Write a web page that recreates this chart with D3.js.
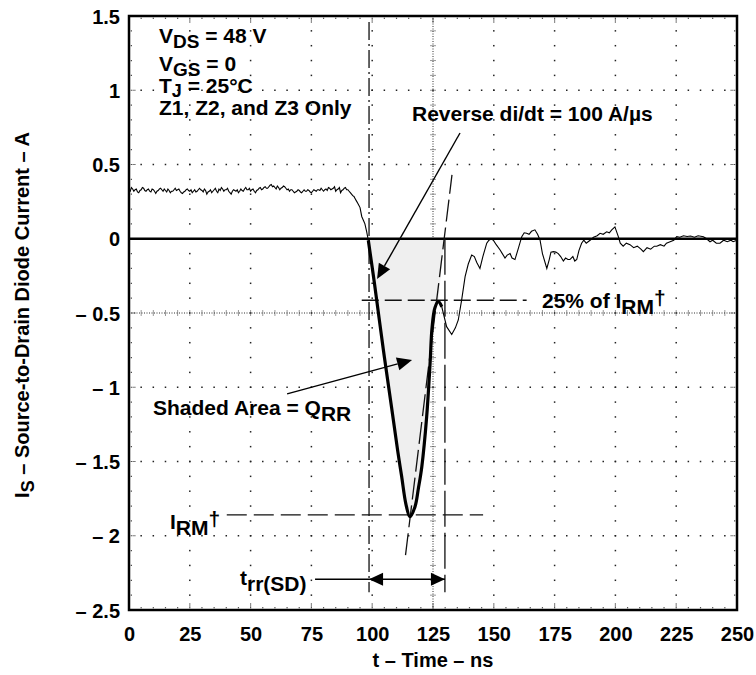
<!DOCTYPE html>
<html><head><meta charset="utf-8">
<script src="https://cdn.jsdelivr.net/npm/d3@7"></script>
<style>
body{margin:0;background:#fff}
text{font-family:"Liberation Sans",Arial,Helvetica,sans-serif;font-weight:bold;fill:#000}
</style>
</head><body>
<svg id="c" width="756" height="675"></svg>
<script>
// ---------- data ----------
const xTicks = [0,25,50,75,100,125,150,175,200,225,250];
const yTicks = [1.5,1,0.5,0,-0.5,-1,-1.5,-2,-2.5];
const yTickLabels = ["1.5","1","0.5","0","\u2013 0.5","\u2013 1","\u2013 1.5","\u2013 2","\u2013 2.5"];

// forward conduction (thin trace) [t ns, I A]
const preTrace = [
[0,.33],[.5,.32],[1,.345],[1.5,.335],[2,.32],[2.5,.33],[3,.335],[3.5,.315],[4,.31],[4.5,.325],[5,.33],[5.5,.345],[6,.34],[6.5,.325],[7,.32],[7.5,.33],[8,.335],[8.5,.32],[9,.315],[9.5,.335],
[10,.33],[10.5,.32],[11,.305],[11.5,.32],[12,.325],[12.5,.335],[13,.34],[13.5,.33],[14,.32],[14.5,.335],[15,.325],[15.5,.315],[16,.335],[16.5,.325],[17,.31],[17.5,.32],[18,.32],[18.5,.33],[19,.34],[19.5,.325],
[20,.33],[20.5,.335],[21,.32],[21.5,.31],[22,.305],[22.5,.315],[23,.32],[23.5,.33],[24,.335],[24.5,.325],[25,.32],[25.5,.33],[26,.31],[26.5,.32],[27,.33],[27.5,.315],[28,.32],[28.5,.33],[29,.34],[29.5,.33],
[30,.325],[30.5,.315],[31,.335],[31.5,.325],[32,.30],[32.5,.315],[33,.32],[33.5,.33],[34,.31],[34.5,.32],[35,.33],[35.5,.34],[36,.32],[36.5,.31],[37,.335],[37.5,.325],[38,.345],[38.5,.335],[39,.32],[39.5,.33],
[40,.33],[40.5,.34],[41,.32],[41.5,.31],[42,.30],[42.5,.32],[43,.33],[43.5,.325],[44,.32],[44.5,.33],[45,.31],[45.5,.32],[46,.335],[46.5,.325],[47,.32],[47.5,.335],[48,.345],[48.5,.33],[49,.33],[49.5,.34],
[50,.32],[50.5,.33],[51,.335],[51.5,.32],[52,.31],[52.5,.325],[53,.33],[53.5,.34],[54,.345],[54.5,.33],[55,.335],[55.5,.345],[56,.35],[56.5,.34],[57,.34],[57.5,.35],[58,.36],[58.5,.365],[59,.35],[59.5,.355],
[60,.345],[60.5,.335],[61,.355],[61.5,.345],[62,.33],[62.5,.34],[63,.345],[63.5,.355],[64,.35],[64.5,.34],[65,.33],[65.5,.335],[66,.32],[66.5,.33],[67,.33],[67.5,.32],[68,.31],[68.5,.315],[69,.32],[69.5,.33],
[70,.325],[70.5,.315],[71,.31],[71.5,.32],[72,.33],[72.5,.32],[73,.32],[73.5,.33],[74,.325],[74.5,.315],[75,.31],[75.5,.32],[76,.33],[76.5,.325],[77,.32],[77.5,.33],[78,.33],[78.5,.325],[79,.34],[79.5,.33],
[80,.32],[80.5,.33],[81,.335],[81.5,.325],[82,.345],[82.5,.34],[83,.33],[83.5,.335],[84,.34],[84.5,.35],[85,.32],[85.5,.33],[86,.335],[86.5,.345],[87,.31],[87.5,.325],[88,.33],[88.5,.34],[89,.345],[89.5,.33],
[90,.33],[90.5,.32],[91,.31],[91.5,.30],[92,.29],[92.5,.285],[93,.27],[93.5,.255],[94,.24],[94.5,.225],[95,.21],[95.7,.15],[96.5,.12],[97,.10],[97.7,.05],[98.4,-.01]
];
// reverse recovery (thick trace)
const recoveryCurve = [
[98.4,-0.01],[101,-0.31],[104.6,-0.749],[108,-1.14],[110.5,-1.43],[112.1,-1.60],[113.9,-1.79],[115.5,-1.872],
[117.6,-1.804],[119,-1.68],[120.4,-1.535],[122.4,-1.198],[123.8,-0.839],[124.6,-0.60],[125.8,-0.465],[127.2,-0.424],[128.6,-0.458]
];
// ringing after recovery (thin trace)
const postTrace = [
[127.2,-0.424],[128.6,-0.458],[130.6,-0.592],[132.7,-0.645],[134.2,-0.60],[135.4,-0.547],[136.8,-0.41],[138.2,-0.255],
[139.5,-0.17],[140.9,-0.11],[142,-0.12],[143,-0.16],[144.3,-0.20],[145.5,-0.12],[147.1,-0.03],[148,-0.01],[149,0.0],
[149.8,-0.01],[151,-0.04],[152.6,-0.076],[153.5,-0.10],[154.6,-0.13],[155.5,-0.11],[156.7,-0.10],[157.5,-0.13],
[158.7,-0.14],[160,-0.07],[161.5,0.014],[162.5,0.04],[163.5,0.037],[164.5,0.03],[165.5,0.05],[166.9,0.06],[168,0.03],
[169,-0.008],[170,-0.10],[171.8,-0.20],[172.8,-0.14],[173.5,-0.09],[174.5,-0.087],[175.5,-0.09],[176.5,-0.10],
[177.5,-0.12],[178.6,-0.15],[179.5,-0.13],[180.5,-0.14],[181.3,-0.14],[182.5,-0.12],[183.3,-0.15],[184.1,-0.14],
[185,-0.08],[186.1,-0.03],[187,-0.01],[188,-0.03],[189.6,-0.01],[191,0.01],[192.5,0.02],[193.7,0.037],[195,0.03],
[196.4,0.047],[197.5,0.04],[198.5,0.06],[199.8,0.08],[201.2,0.014],[202,-0.03],[203.2,-0.05],[204.5,-0.03],[206,-0.04],
[207.5,-0.06],[209,-0.05],[210.5,-0.07],[211.5,-0.087],[213,-0.06],[214.5,-0.07],[216,-0.05],[217,-0.05],[218.5,-0.04],
[220,-0.05],[221,-0.03],[222.5,-0.02],[224,-0.01],[225.2,0.014],[226.5,0.01],[228,0.02],[229.5,0.015],[230.9,0.018],
[232.5,0.01],[234,0.02],[236.2,0.014],[237.5,0.0],[238.9,-0.02],[240,-0.01],[241.5,-0.03],[243,-0.03],[244.5,-0.01],
[246,-0.02],[247.5,-0.01],[248.4,-0.02],[250,-0.01]
];
// reference construction lines [t, I]
const tangentLine = [[113.7,-2.13],[132.8,0.43]];
const startLineT = 98.7, endLineT = 129.9;
const irm = -1.86, irm25 = -0.414;

// ---------- layout ----------
const svg = d3.select("#c");
const X0=129, X1=737, Y0=16, Y1=610;
const x = d3.scaleLinear().domain([0,250]).range([X0,X1]);
const y = d3.scaleLinear().domain([-2.5,1.5]).range([Y1,Y0]);
const minorT = d3.range(0,250.001,5);
const minorV = d3.range(-25,16,1).map(k=>k/10);

// graticule
const grat = svg.append("g");
const gridT=[25,50,75,100,150,175,200,225];
const gridV=[1,0.5,0,-1,-1.5,-2];
gridT.forEach(t=>minorV.forEach(v=>{
  if(v>-2.5 && v<1.5) grat.append("rect").attr("x",x(t)-0.75).attr("y",y(v)-0.75).attr("width",1.5).attr("height",1.5).attr("fill","#222");
}));
gridV.forEach(v=>minorT.forEach(t=>{
  if(t>0 && t<250) grat.append("rect").attr("x",x(t)-0.75).attr("y",y(v)-0.75).attr("width",1.5).attr("height",1.5).attr("fill","#222");
}));
// center lines
grat.append("line").attr("x1",x(125)).attr("x2",x(125)).attr("y1",Y0).attr("y2",Y1)
  .attr("stroke","#333").attr("stroke-width",1).attr("stroke-dasharray","1,1.5");
grat.append("line").attr("x1",X0).attr("x2",X1).attr("y1",y(-0.5)).attr("y2",y(-0.5))
  .attr("stroke","#333").attr("stroke-width",1).attr("stroke-dasharray","1,1.5");
minorV.forEach(v=>grat.append("line").attr("x1",x(125)-2.5).attr("x2",x(125)+2.5).attr("y1",y(v)).attr("y2",y(v))
  .attr("stroke","#333").attr("stroke-width",1).attr("stroke-dasharray","1,1"));
minorT.forEach(t=>grat.append("line").attr("x1",x(t)).attr("x2",x(t)).attr("y1",y(-0.5)-2.5).attr("y2",y(-0.5)+2.5)
  .attr("stroke","#333").attr("stroke-width",1).attr("stroke-dasharray","1,1"));
// border ticks
minorT.forEach((t,i)=>{
  const L = (i%5===0)?7:3;
  grat.append("line").attr("x1",x(t)).attr("x2",x(t)).attr("y1",Y0).attr("y2",Y0+L).attr("stroke","#222").attr("stroke-width",1.2).attr("stroke-dasharray","1.2,1");
  grat.append("line").attr("x1",x(t)).attr("x2",x(t)).attr("y1",Y1).attr("y2",Y1-L).attr("stroke","#222").attr("stroke-width",1.2).attr("stroke-dasharray","1.2,1");
});
minorV.forEach((v,i)=>{
  const L = (i%5===0)?7:3;
  grat.append("line").attr("y1",y(v)).attr("y2",y(v)).attr("x1",X0).attr("x2",X0+L).attr("stroke","#222").attr("stroke-width",1.2).attr("stroke-dasharray","1.2,1");
  grat.append("line").attr("y1",y(v)).attr("y2",y(v)).attr("x1",X1).attr("x2",X1-L).attr("stroke","#222").attr("stroke-width",1.2).attr("stroke-dasharray","1.2,1");
});

// shaded Q_RR area
const curve = d3.line().x(d=>x(d[0])).y(d=>y(d[1])).curve(d3.curveCatmullRom.alpha(0.5));
const tZero = tangentLine[0][0] + (0 - tangentLine[0][1])*(tangentLine[1][0]-tangentLine[0][0])/(tangentLine[1][1]-tangentLine[0][1]);
const shadePts = recoveryCurve.filter(d=>d[0]<=127.2);
svg.append("path")
  .attr("d", curve(shadePts) + `L${x(tZero)},${y(0)}L${x(recoveryCurve[0][0])},${y(0)}Z`)
  .attr("fill","#efefef");

// zero reference line
svg.append("line").attr("x1",X0).attr("x2",X1).attr("y1",y(0)).attr("y2",y(0)).attr("stroke","#000").attr("stroke-width",2.5);

// construction lines
const dl = (x1,y1,x2,y2,dash)=>svg.append("line").attr("x1",x1).attr("y1",y1).attr("x2",x2).attr("y2",y2)
  .attr("stroke","#111").attr("stroke-width",1.3).attr("stroke-dasharray",dash);
dl(x(startLineT),y(1.46),x(startLineT),y(-2.38),"18,4,2,4");
dl(x(endLineT),y(0),x(endLineT),y(-2.38),"36,6");
dl(x(tangentLine[0][0]),y(tangentLine[0][1]),x(tangentLine[1][0]),y(tangentLine[1][1]),"22,6");
dl(x(95.7),y(irm25),x(163.5),y(irm25),"17,6");
dl(x(40.2),y(irm),x(145.6),y(irm),"20,7");

// traces
const lin = d3.line().x(d=>x(d[0])).y(d=>y(d[1]));
svg.append("path").attr("d",lin(preTrace)).attr("fill","none").attr("stroke","#000").attr("stroke-width",1.1);
svg.append("path").attr("d",lin(postTrace)).attr("fill","none").attr("stroke","#000").attr("stroke-width",1.1);
svg.append("path").attr("d",curve(recoveryCurve)).attr("fill","none").attr("stroke","#000").attr("stroke-width",3.2).attr("stroke-linejoin","round");

// border
svg.append("rect").attr("x",X0).attr("y",Y0).attr("width",X1-X0).attr("height",Y1-Y0)
  .attr("fill","none").attr("stroke","#000").attr("stroke-width",2.5);

// arrows
function arrowHead(tipX,tipY,fromX,fromY,len,hw){
  const a=Math.atan2(tipY-fromY,tipX-fromX);
  const bx=tipX-len*Math.cos(a), by=tipY-len*Math.sin(a);
  const px=-Math.sin(a)*hw, py=Math.cos(a)*hw;
  svg.append("path").attr("d",`M${tipX},${tipY}L${bx+px},${by+py}L${bx-px},${by-py}Z`).attr("fill","#000");
  return [bx,by];
}
function arrow(t1,v1,t2,v2){
  const sx=x(t1),sy=y(v1),tx=x(t2),ty=y(v2);
  const b=arrowHead(tx,ty,sx,sy,15,6.5);
  svg.append("line").attr("x1",sx).attr("y1",sy).attr("x2",b[0]).attr("y2",b[1]).attr("stroke","#000").attr("stroke-width",1.4);
}
arrow(136.1,0.712,102.0,-0.271);
arrow(65.0,-1.045,116.4,-0.816);
const vArr=-2.293;
svg.append("line").attr("x1",x(76.5)).attr("x2",x(startLineT)).attr("y1",y(vArr)).attr("y2",y(vArr)).attr("stroke","#000").attr("stroke-width",1.4);
svg.append("line").attr("x1",x(startLineT)).attr("x2",x(endLineT)).attr("y1",y(vArr)).attr("y2",y(vArr)).attr("stroke","#000").attr("stroke-width",1.4);
arrowHead(x(startLineT),y(vArr),x(endLineT),y(vArr),14,6.5);
arrowHead(x(endLineT),y(vArr),x(startLineT),y(vArr),14,6.5);

// axes
const xa = svg.append("g").attr("transform",`translate(0,${Y1})`)
  .call(d3.axisBottom(x).tickValues(xTicks).tickSize(0).tickFormat(d3.format("d")));
xa.select(".domain").remove();
xa.selectAll("text").attr("y",31).attr("dy",0).style("font-size","20px");
const ya = svg.append("g").attr("transform",`translate(${X0},0)`)
  .call(d3.axisLeft(y).tickValues(yTicks).tickSize(0).tickPadding(9).tickFormat((d,i)=>yTickLabels[i]));
ya.select(".domain").remove();
ya.selectAll("text").attr("dy","0.35em").style("font-size","20px");
svg.selectAll(".tick text").attr("fill","#000");
[xa,ya].forEach(g=>g.attr("font-family",null).attr("font-size",null));

// titles
svg.append("text").attr("x",(X0+X1)/2).attr("y",667).attr("text-anchor","middle").style("font-size","20px").text("t \u2013 Time \u2013 ns");
const yt = svg.append("text").attr("transform",`translate(29,${(Y0+Y1)/2+2}) rotate(-90)`).attr("text-anchor","middle").style("font-size","20px");
yt.append("tspan").text("I");
yt.append("tspan").attr("dy",5).style("font-size","18px").text("S");
yt.append("tspan").attr("dy",-5).text(" \u2013 Source-to-Drain Diode Current \u2013 A");

// annotations
function rich(px,py,parts,size){
  const t=svg.append("text").attr("x",px).attr("y",py).style("font-size",size+"px");
  let cur=0;
  parts.forEach(p=>{
    const off=p.off||0;
    const s=t.append("tspan").attr("dy",off-cur).text(p.s);
    if(p.size) s.style("font-size",p.size+"px");
    cur=off;
  });
  return t;
}
rich(159,43,[{s:"V"},{s:"DS",off:5,size:19},{s:" = 48 V",off:0}],21);
rich(159,71,[{s:"V"},{s:"GS",off:5,size:19},{s:" = 0",off:0}],21);
rich(159,93,[{s:"T"},{s:"J",off:4,size:18},{s:" = 25\u00b0C",off:0}],21);
rich(159,115,[{s:"Z1, Z2, and Z3 Only"}],21);
rich(412,121,[{s:"Reverse di/dt = 100 A/\u00b5s"}],21);
rich(542,308,[{s:"25% of I"},{s:"RM",off:6},{s:"\u2020",off:-3}],21);
rich(153,415,[{s:"Shaded Area = Q"},{s:"RR",off:6}],21);
rich(170,529,[{s:"I"},{s:"RM",off:6},{s:"\u2020",off:-3}],21);
rich(240,585,[{s:"t"},{s:"rr(SD)",off:6}],21);
</script>
</body></html>
